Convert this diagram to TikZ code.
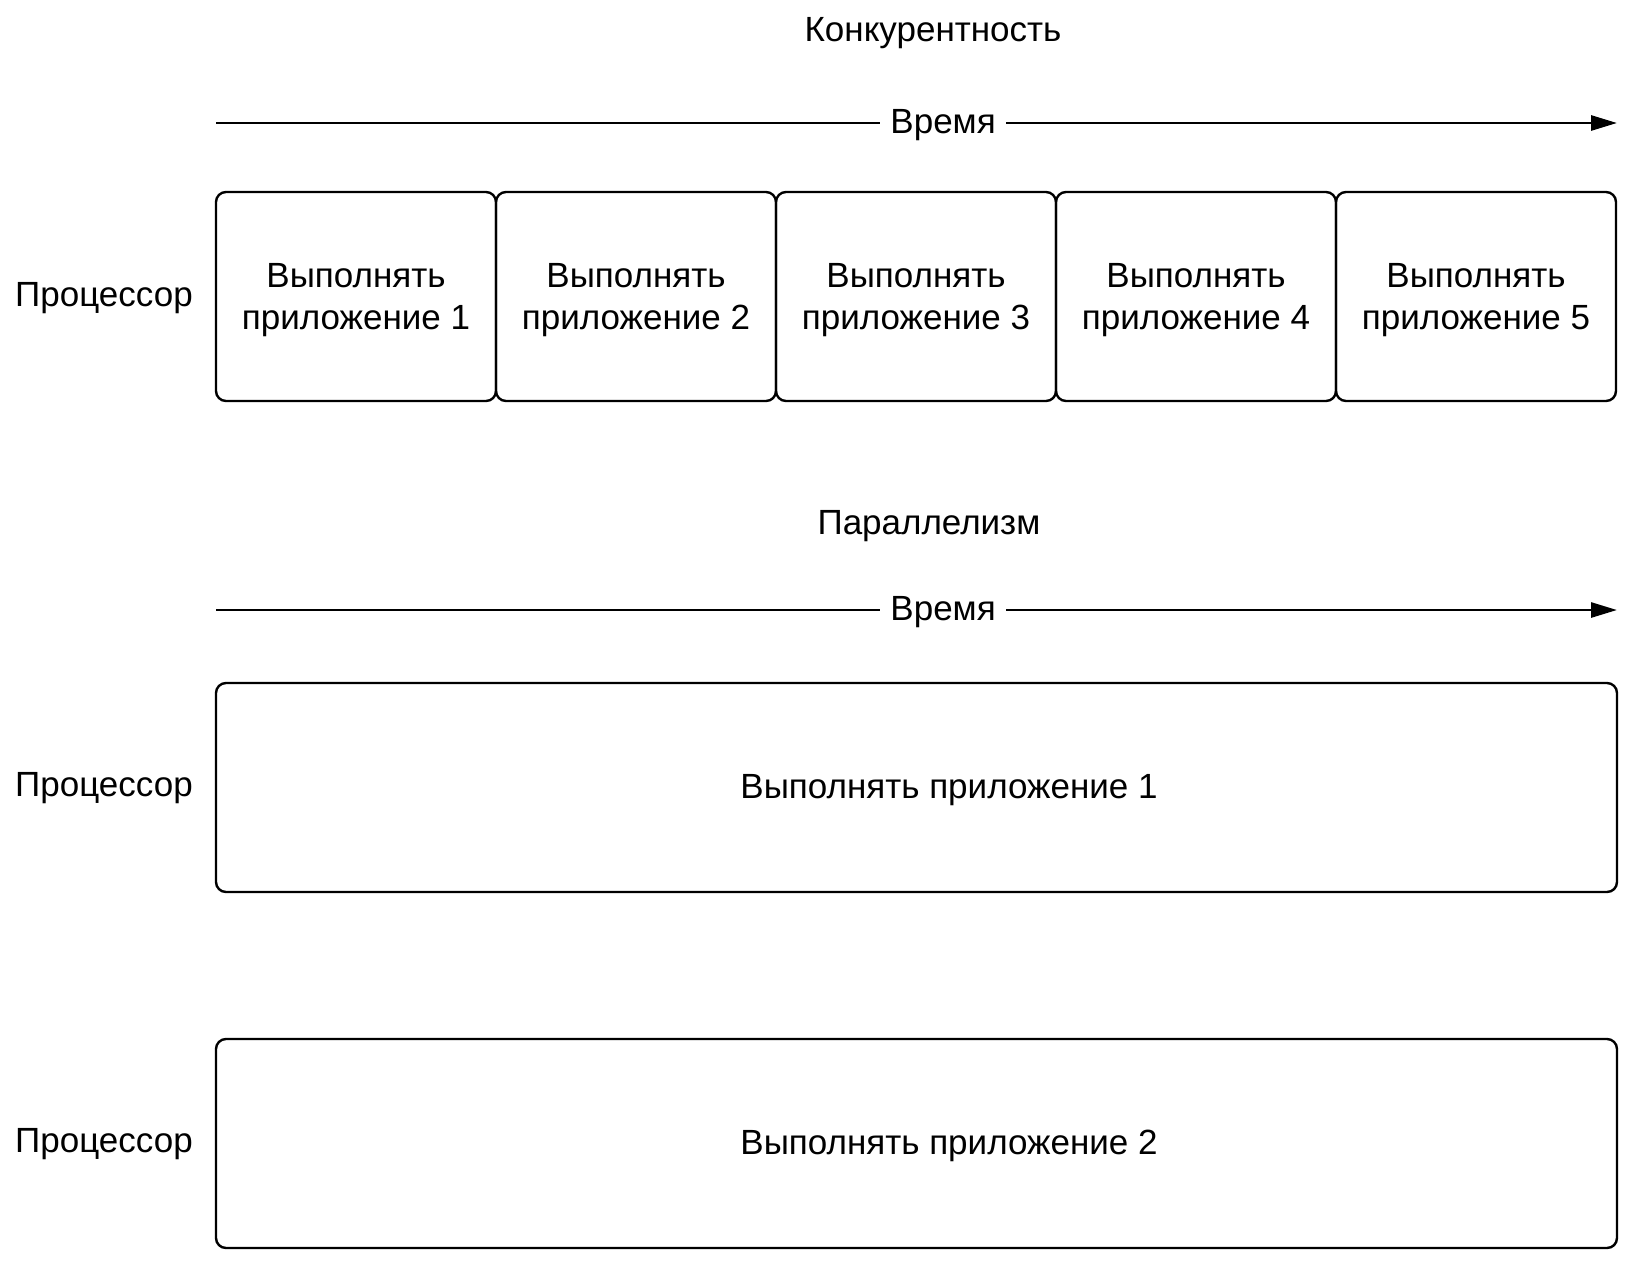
\documentclass[tikz,border=0pt]{standalone}
\usepackage{fontspec}
\setmainfont{Liberation Sans}
\usetikzlibrary{arrows.meta, positioning}

\begin{document}
\begin{tikzpicture}[
		  x=0.5pt, y=-0.5pt,
		  font=\fontsize{17.5}{21}\selectfont,
		  node distance=0pt,
		  appbox/.style={
		    draw,
		    line width=1.2pt,
		    rounded corners=5pt,
		    align=center,
		    minimum width=140pt,
		    minimum height=104.5pt,
		    text depth=-6pt,
		    outer sep=0pt
		  },
		  widebox/.style={appbox, minimum width=700.5pt},
		  runtext/.style={xshift=16.25pt, yshift=-1.25pt},
		  title/.style={align=center},
		  cpu/.style={anchor=center},
		  timearrow/.style={-{Triangle[length=13pt,width=7.5pt]}, line width=1.4pt},
		  timelabel/.style={fill=white, inner xsep=5pt, inner ysep=2pt, yshift=-1pt}
		]
		\path[use as bounding box, fill=white] (0,0) rectangle (1634,1265);

		% --- concurrency ---
		\node[title] (conc) at (933,33) {Конкурентность};
		\coordinate (t1s) at (216,123);
		\coordinate (t1e) at (1617,123);
		\draw[timearrow] (t1s) -- node[timelabel, pos=0.519] (time1) {Время} (t1e);

		\node[cpu] (cpu1) at (104,298) {Процессор};
		\node[appbox] (app1) at (356,296.5) {Выполнять\\приложение 1};
		\node[appbox, right=of app1] (app2) {Выполнять\\приложение 2};
		\node[appbox, right=of app2] (app3) {Выполнять\\приложение 3};
		\node[appbox, right=of app3] (app4) {Выполнять\\приложение 4};
		\node[appbox, right=of app4] (app5) {Выполнять\\приложение 5};

		% --- parallelism ---
		\node[title] (par) at (929,526) {Параллелизм};
		\coordinate (t2s) at (216,610);
		\coordinate (t2e) at (1617,610);
		\draw[timearrow] (t2s) -- node[timelabel, pos=0.519] (time2) {Время} (t2e);

		\node[cpu] (cpu2) at (104,788) {Процессор};
		\node[widebox, label={[runtext]center:Выполнять приложение 1}] (run1) at (916.5,787.5) {};

		\node[cpu] (cpu3) at (104,1144) {Процессор};
		\node[widebox, label={[runtext]center:Выполнять приложение 2}] (run2) at (916.5,1143.5) {};

		\end{tikzpicture}
\end{document}
